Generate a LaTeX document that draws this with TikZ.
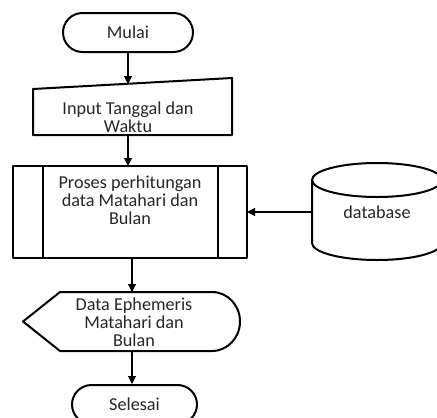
\documentclass[tikz,border=0pt]{standalone}
\usepackage{fontspec}
\setmainfont{Carlito}
\usetikzlibrary{shapes.misc,arrows.meta}
\begin{document}
\begin{tikzpicture}[x=1pt,y=-1pt,
  shapeline/.style={draw=black,line width=2pt,line join=round},
  terminal/.style={shapeline,rounded rectangle,minimum width=130pt,minimum height=39pt,inner sep=0pt},
  plain/.style={inner sep=0pt,outer sep=0pt},
  label/.style={align=center,font=\fontsize{18.2}{18}\selectfont,text=black!85},
  flow/.style={draw=black,line width=1.1pt,-{Triangle[width=8pt,length=8pt]}}]
\useasboundingbox (0,0) rectangle (437,418);
\clip (0,0) rectangle (437,418);

% start terminal
\node[terminal,label] (start) at (128,32.5) {Mulai};

% manual input
\node[plain,minimum width=199pt,minimum height=57pt] (inp) at (132.5,106.5) {};
\draw[shapeline] (inp.south west) -- ([yshift=-11pt]inp.north west) -- (inp.north east) -- (inp.south east) -- cycle;
\node[label] at (128,117) {Input Tanggal dan\\Waktu};

% predefined process
\node[shapeline,plain,minimum width=234pt,minimum height=92pt] (proc) at (130,212) {};
\draw[shapeline] ([xshift=30pt]proc.north west) -- ([xshift=30pt]proc.south west);
\draw[shapeline] ([xshift=-29pt]proc.north east) -- ([xshift=-29pt]proc.south east);
\node[label,anchor=north] at (130,172) {Proses perhitungan\\data Matahari dan\\Bulan};

% database cylinder
\node[plain,minimum width=130pt,minimum height=97pt,label] (db) at (377,212) {database};
\draw[shapeline] (377,180) ellipse [x radius=65pt,y radius=17pt];
\draw[shapeline] (312,180) -- (312,243) arc [start angle=180,end angle=360,x radius=65pt,y radius=17pt] -- (442,180);

% display
\node[plain,minimum width=217pt,minimum height=59pt] (disp) at (131.5,321.5) {};
\draw[shapeline] (disp.west) -- ([xshift=37pt]disp.north west) -- ([xshift=-28pt]disp.north east)
  arc [start angle=90,end angle=-90,x radius=28pt,y radius=29.5pt]
  -- ([xshift=37pt]disp.south west) -- cycle;
\node[label] at (134,322) {Data Ephemeris\\Matahari dan\\Bulan};

% end terminal
\node[terminal,minimum width=125pt,label] (stop) at (134.5,404.5) {Selesai};

% connectors
\draw[flow] (start.south) -- (128,84);
\draw[flow] (128,135) -- (proc.north -| 128,0);
\draw[flow] (db.west) -- (db.west -| proc.east);
\draw[flow] (proc.south -| 132,0) -- (disp.north -| 132,0);
\draw[flow] (disp.south -| 132,0) -- (stop.north -| 132,0);
\end{tikzpicture}
\end{document}
